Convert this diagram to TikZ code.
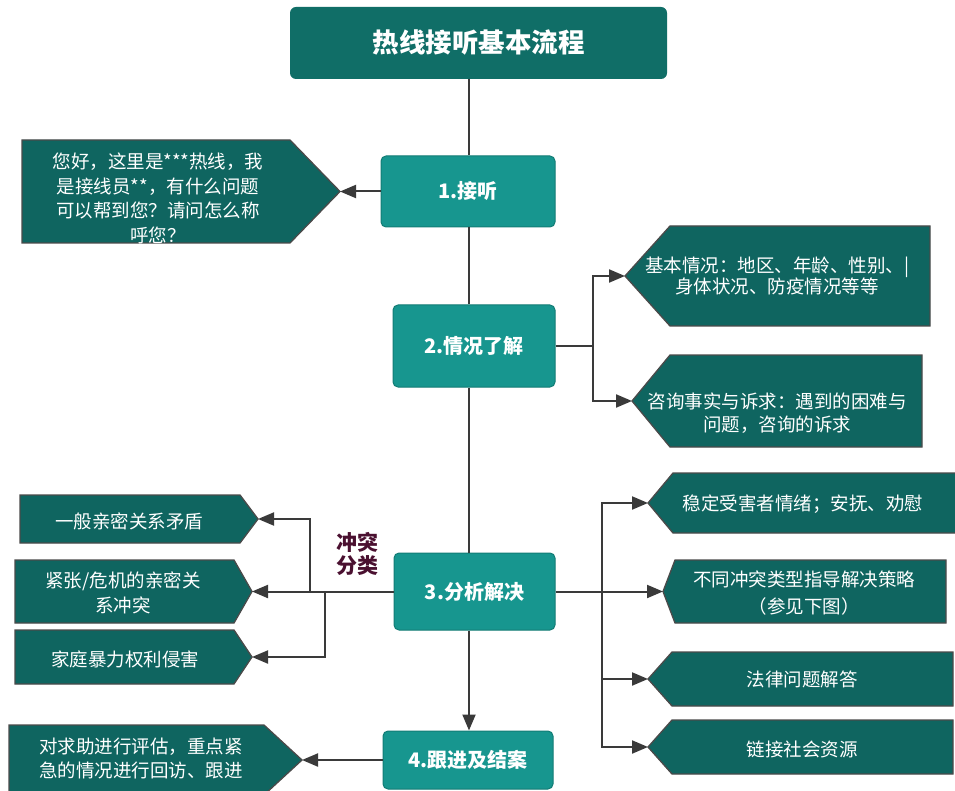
\documentclass[tikz,border=0pt]{standalone}
\usepackage{fontspec}
\setmainfont{Noto Sans CJK SC}
\usetikzlibrary{arrows.meta}
\definecolor{titlefill}{HTML}{106E67}
\definecolor{boxfill}{HTML}{17968F}
\definecolor{boxedge}{HTML}{127C75}
\definecolor{cfill}{HTML}{0F6560}
\definecolor{cedge}{HTML}{4A4A4A}
\definecolor{connc}{HTML}{3A3A3A}
\definecolor{labc}{HTML}{4A1030}
\begin{document}
\begin{tikzpicture}[x=1pt,y=-1pt,
  titlebox/.style={fill=titlefill, rounded corners=6pt, text=white, font=\fontsize{26.5}{30}\selectfont\bfseries, minimum width=377pt, minimum height=72pt, inner sep=0pt},
  stepbox/.style={fill=boxfill, draw=boxedge, line width=1pt, rounded corners=5pt, text=white, font=\fontsize{20}{24}\selectfont\bfseries, inner sep=0pt},
  callout/.style={fill=cfill, draw=cedge, line width=1.3pt, line join=miter},
  ctext/.style={text=white, align=center, font=\fontsize{18.5}{24}\selectfont, inner sep=0pt},
  link/.style={draw=connc, line width=2pt},
  arr/.style={link, -{Triangle[length=16pt,width=13pt]}},
  catlabel/.style={text=labc, align=center, font=\fontsize{21}{23}\selectfont\bfseries, inner sep=0pt}
]
\useasboundingbox (0,0) rectangle (955,791);
\fill[white] (0,0) rectangle (955,791);
\clip (0,0) rectangle (955,791);

% main boxes
\node[titlebox] (title) at (478.5,43) {热线接听基本流程};
\node[stepbox, minimum width=174pt, minimum height=71pt] (b1) at (468,191.5) {1.接听};
\node[stepbox, minimum width=162pt, minimum height=82pt] (b2) at (474,346) {2.情况了解};
\node[stepbox, minimum width=161pt, minimum height=77pt] (b3) at (474.5,591.5) {3.分析解决};
\node[stepbox, minimum width=170pt, minimum height=58pt] (b4) at (468,760) {4.跟进及结案};
\coordinate (spine) at (469,0);

% callout shapes
\path[callout] (22,140) -- (290,140) -- (340,191.5) -- (290,243) -- (22,243) -- cycle;
\coordinate (c1tip) at (340,191.5);
\path[callout] (930,226) -- (670,226) -- (625,276) -- (670,326) -- (930,326) -- cycle;
\coordinate (atip) at (625,276);
\path[callout] (922,355) -- (670,355) -- (632,401) -- (670,447) -- (922,447) -- cycle;
\coordinate (btip) at (632,401);
\path[callout] (20,495) -- (240,495) -- (258,519) -- (240,543) -- (20,543) -- cycle;
\coordinate (l1tip) at (258,519);
\path[callout] (15,560) -- (234,560) -- (252,591.5) -- (234,623) -- (15,623) -- cycle;
\coordinate (l2tip) at (252,591.5);
\path[callout] (15,630) -- (234,630) -- (252,657) -- (234,684) -- (15,684) -- cycle;
\coordinate (l3tip) at (252,657);
\path[callout] (960,473) -- (673,473) -- (648,503) -- (673,533) -- (960,533) -- cycle;
\coordinate (r1tip) at (648,503);
\path[callout] (946,560) -- (675,560) -- (663,591.5) -- (675,623) -- (946,623) -- cycle;
\coordinate (r2tip) at (663,591.5);
\path[callout] (953,652) -- (672,652) -- (648,679) -- (672,706) -- (953,706) -- cycle;
\coordinate (r3tip) at (648,679);
\path[callout] (953,720) -- (672,720) -- (648,747) -- (672,774) -- (953,774) -- cycle;
\coordinate (r4tip) at (648,747);
\path[callout] (9,725) -- (264,725) -- (302,760) -- (264,795) -- (9,795) -- cycle;
\coordinate (dtip) at (302,760);

% callout texts
\node[ctext, font=\fontsize{18.5}{24.5}\selectfont] (c1) at (158,198.5) {您好，这里是***热线，我\\是接线员**，有什么问题\\可以帮到您？请问怎么称\\呼您？};
\node[ctext, font=\fontsize{18.5}{20.5}\selectfont] (ca) at (777,276) {基本情况：地区、年龄、性别、|\\身体状况、防疫情况等等};
\node[ctext, font=\fontsize{18.5}{23}\selectfont] (cb) at (777,413.5) {咨询事实与诉求：遇到的困难与\\问题，咨询的诉求};
\node[ctext] (l1) at (129,521) {一般亲密关系矛盾};
\node[ctext, font=\fontsize{18.5}{25}\selectfont] (l2) at (123,592.5) {紧张/危机的亲密关\\系冲突};
\node[ctext] (l3) at (125,659) {家庭暴力权利侵害};
\node[ctext] (r1) at (803,504) {稳定受害者情绪；安抚、劝慰};
\node[ctext, font=\fontsize{18.5}{27}\selectfont] (r2) at (804,593.5) {不同冲突类型指导解决策略\\（参见下图）};
\node[ctext] (r3) at (802,679) {法律问题解答};
\node[ctext] (r4) at (802,749) {链接社会资源};
\node[ctext] (d) at (141,758) {对求助进行评估，重点紧\\急的情况进行回访、跟进};
\node[catlabel] (cat) at (357,553.5) {冲突\\分类};

% junctions
\coordinate (j2) at (593,346);
\coordinate (j3a) at (310,591.5);
\coordinate (j3b) at (325,591.5);
\coordinate (j3r) at (602,591.5);

% connectors
\draw[link] (title.south -| spine) -- (b1.north -| spine);
\draw[link] (b1.south -| spine) -- (b2.north -| spine);
\draw[link] (b2.south -| spine) -- (b3.north -| spine);
\draw[arr] (b3.south -| spine) -- (b4.north -| spine);
\draw[arr] (b1.west) -- (c1tip);
\draw[link] (b2.east) -- (j2);
\draw[arr] (j2) |- (atip);
\draw[arr] (j2) |- (btip);
\draw[arr] (b3.west) -- (l2tip);
\draw[arr] (j3a) |- (l1tip);
\draw[arr] (j3b) |- (l3tip);
\draw[arr] (b3.east) -- (r2tip);
\draw[arr] (j3r) |- (r1tip);
\draw[arr] (j3r) |- (r3tip);
\draw[arr] (j3r) |- (r4tip);
\draw[arr] (b4.west) -- (dtip);
\end{tikzpicture}
\end{document}
